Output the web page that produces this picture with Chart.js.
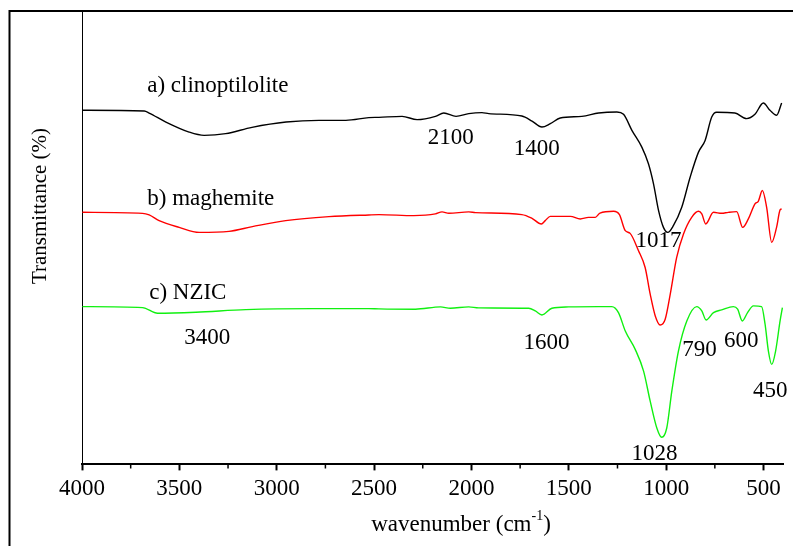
<!DOCTYPE html>
<html>
<head>
<meta charset="utf-8">
<script src="https://cdn.jsdelivr.net/npm/chart.js@4/dist/chart.umd.min.js"></script>
<style>
  html, body { margin: 0; padding: 0; background: #fff; }
  #wrap { width: 793px; height: 546px; position: relative; }
</style>
</head>
<body>
<div id="wrap"><canvas id="ftir"></canvas></div>
<script>
// FTIR spectra, wavenumber (cm-1) vs. offset transmittance
const clinoWave = [3998, 3680, 3655, 3569, 3450, 3373, 3262, 3127, 2952, 2783, 2645, 2527, 2475, 2356, 2279, 2185, 2142, 2079, 2014, 1946, 1911, 1741, 1689, 1638, 1595, 1544, 1433, 1347, 1253, 1219, 1176, 1125, 1091, 1065, 1039, 1014, 992, 963, 920, 877, 834, 800, 766, 741, 647, 587, 544, 501, 467, 433, 407];
const clinoT = [353, 352.3, 350.3, 341.3, 331.3, 328, 329.7, 336, 341.3, 343, 343, 345.7, 346, 347, 343.7, 347, 350.3, 347, 349.7, 350.7, 349.7, 347.3, 342.3, 336.3, 339.7, 345.3, 347, 350.3, 351.3, 349, 333, 316.3, 299.7, 279.7, 253, 236.3, 231.3, 238, 256.3, 286.3, 311.3, 323, 346.3, 351, 350.3, 344.7, 349, 360.3, 353, 348, 360.3];

const maghWave = [3998, 3689, 3655, 3604, 3501, 3398, 3245, 3125, 2954, 2732, 2527, 2475, 2296, 2185, 2151, 2116, 2014, 1979, 1741, 1689, 1641, 1621, 1595, 1492, 1441, 1399, 1364, 1340, 1270, 1240, 1210, 1185, 1142, 1108, 1082, 1056, 1031, 1005, 979, 946, 911, 869, 834, 817, 797, 757, 715, 681, 638, 607, 578, 544, 527, 506, 484, 458, 433, 415, 407];
const maghT = [251.3, 250.3, 248.7, 243, 236.3, 231.3, 232.3, 237, 243, 247, 248.7, 249, 248, 249.7, 251.7, 250.3, 251.7, 251, 249, 245.3, 239.7, 243, 247.3, 247.3, 244.7, 246.3, 246.3, 250.5, 252.3, 249, 233, 230.3, 213, 196.3, 169.7, 148, 139, 144.7, 169.7, 206.3, 229.7, 246.3, 252.3, 249.7, 239.7, 251.3, 250.3, 251.3, 252, 236.3, 244.7, 259.7, 262.3, 273, 256.3, 221.3, 236.3, 253.7, 254.7];

const nzicWave = [3998, 3689, 3612, 3415, 3159, 2817, 2527, 2475, 2287, 2159, 2108, 2014, 1963, 1706, 1672, 1638, 1587, 1501, 1347, 1279, 1245, 1210, 1159, 1116, 1082, 1048, 1023, 997, 971, 937, 894, 843, 817, 795, 757, 715, 655, 633, 609, 582, 552, 510, 492, 475, 458, 438, 415, 403];
const nzicT = [157.3, 156.3, 150.7, 151.7, 154.3, 155.3, 155.3, 155, 154.7, 157, 155.7, 157, 156, 155.7, 153, 149, 155.7, 157, 157.3, 157.3, 151.3, 133, 114.7, 93, 63, 36.3, 27, 36.3, 73, 113, 143, 157.3, 153, 144, 151.3, 154, 157.3, 154.7, 143, 151.3, 158, 157.3, 139.7, 113, 99.7, 113, 143, 156.3];

const majorTicks = [500, 1000, 1500, 2000, 2500, 3000, 3500, 4000];
const minorTicks = [750, 1250, 1750, 2250, 2750, 3250, 3750];

// text placed in data space: [text, wavenumber, T, align]
const seriesNames = [["a) clinoptilolite", 3665, 377, "left"], ["b) maghemite", 3665, 265, "left"], ["c) NZIC", 3655, 171, "left"]];
const bandLabels = [["2100", 2106, 325], ["1400", 1665, 314], ["1017", 1039, 223], ["3400", 3357, 126], ["1600", 1614, 121], ["790", 829, 114], ["600", 614, 123], ["450", 465, 73], ["1028", 1060, 10]];

const SERIF = '"Liberation Serif", "Times New Roman", serif';

function pts(xs, ys) {
  return xs.map((x, i) => ({ x: x, y: ys[i] }));
}

const decor = {
  id: "decor",
  afterDraw(chart) {
    const ctx = chart.ctx;
    const xs = chart.scales.x, ys = chart.scales.y;
    const area = chart.chartArea;
    ctx.save();
    // outer frame
    ctx.strokeStyle = "#000";
    ctx.lineWidth = 2;
    ctx.beginPath();
    ctx.moveTo(9.5, 546);
    ctx.lineTo(9.5, 11);
    ctx.lineTo(793, 11);
    ctx.stroke();
    // minor ticks
    ctx.lineWidth = 1.5;
    ctx.beginPath();
    minorTicks.forEach((v) => {
      const px = xs.getPixelForValue(v);
      ctx.moveTo(px, area.bottom);
      ctx.lineTo(px, area.bottom + 4);
    });
    ctx.stroke();
    // labels
    ctx.fillStyle = "#000";
    ctx.font = "23px " + SERIF;
    ctx.textBaseline = "middle";
    seriesNames.concat(bandLabels).forEach((l) => {
      ctx.textAlign = l[3] || "center";
      ctx.fillText(l[0], xs.getPixelForValue(l[1]), ys.getPixelForValue(l[2]));
    });
    // x title with superscript
    const main = "wavenumber (cm", sup = "-1", tail = ")";
    ctx.font = "23px " + SERIF;
    const w1 = ctx.measureText(main).width, w3 = ctx.measureText(tail).width;
    ctx.font = "14px " + SERIF;
    const w2 = ctx.measureText(sup).width;
    let x0 = 461 - (w1 + w2 + w3) / 2;
    ctx.textAlign = "left";
    ctx.textBaseline = "alphabetic";
    ctx.font = "23px " + SERIF;
    ctx.fillText(main, x0, 531);
    ctx.font = "14px " + SERIF;
    ctx.fillText(sup, x0 + w1, 520);
    ctx.font = "23px " + SERIF;
    ctx.fillText(tail, x0 + w1 + w2, 531);
    // y title
    ctx.translate(40, 206);
    ctx.rotate(-Math.PI / 2);
    ctx.textAlign = "center";
    ctx.textBaseline = "middle";
    ctx.font = "21px " + SERIF;
    ctx.fillText("Transmittance (%)", 0, 0);
    ctx.restore();
  },
};

const line = (label, data, color) => ({
  label: label,
  data: data,
  borderColor: color,
  borderWidth: 1.4,
  pointRadius: 0,
  fill: false,
  cubicInterpolationMode: "monotone",
});

new Chart(document.getElementById("ftir"), {
  type: "line",
  data: {
    datasets: [
      line("a) clinoptilolite", pts(clinoWave, clinoT), "#000000"),
      line("b) maghemite", pts(maghWave, maghT), "#ff0000"),
      line("c) NZIC", pts(nzicWave, nzicT), "#10f010"),
    ],
  },
  options: {
    responsive: true,
    maintainAspectRatio: false,
    animation: false,
    layout: { padding: { left: 82, top: 11, right: 10, bottom: 38 } },
    plugins: { legend: { display: false }, tooltip: { enabled: false } },
    scales: {
      x: {
        type: "linear",
        reverse: true,
        min: 400,
        max: 4000,
        afterBuildTicks: (s) => { s.ticks = majorTicks.map((v) => ({ value: v })); },
        ticks: {
          color: "#000",
          font: { family: SERIF, size: 23 },
          maxRotation: 0,
          autoSkip: false,
          padding: 5,
          callback: (v) => String(v),
        },
        grid: { drawOnChartArea: false, tickLength: 6, tickWidth: 2, color: "#000" },
        border: { display: true, color: "#000", width: 2 },
      },
      y: {
        min: 0,
        max: 452,
        ticks: { display: false },
        grid: { display: false, drawTicks: false },
        border: { display: true, color: "#000", width: 1 },
      },
    },
  },
  plugins: [decor],
});
</script>
</body>
</html>
